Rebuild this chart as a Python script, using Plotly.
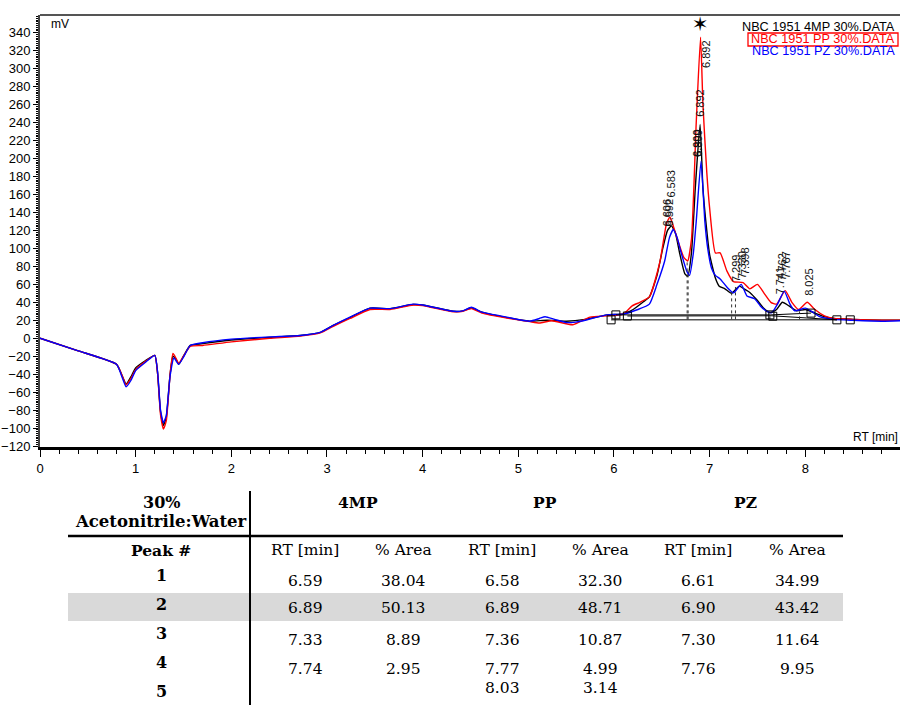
import plotly.graph_objects as go

# ---------------- data ----------------
t_4mp = [0, 0.4, 0.8, 0.86, 0.9, 0.95, 1.0, 1.1, 1.2, 1.23, 1.26, 1.29, 1.32, 1.36, 1.39, 1.42, 1.45, 1.5, 1.57, 1.7,
         2.0, 2.4, 2.72, 2.93, 3.06, 3.24, 3.45, 3.66, 3.9, 4.0, 4.32, 4.42, 4.51, 4.62, 4.88, 5.12, 5.3, 5.5, 5.7, 5.93,
         6.1, 6.2, 6.3, 6.37, 6.45, 6.51, 6.56, 6.6, 6.64, 6.69, 6.74, 6.77, 6.81, 6.85, 6.9, 6.93, 6.97, 7.0, 7.06, 7.1,
         7.16, 7.23, 7.31, 7.36, 7.42, 7.5, 7.56, 7.63, 7.7, 7.76, 7.83, 7.91, 8.0, 8.1, 8.2, 8.3, 8.5, 8.8, 9.0]
v_4mp = [0, -14, -29, -42, -51, -43, -33, -25, -19, -40, -82, -97, -88, -40, -20, -23, -29, -20, -8, -6,
         -2, 1, 3, 6.5, 14, 23, 33.5, 33, 37.5, 37, 30, 30.5, 34, 29, 23, 19, 20, 19, 21, 26,
         27, 32, 40, 46, 70, 100, 120, 125, 118, 93, 72, 69, 95, 167, 238, 167, 120, 93, 67, 58,
         55, 50, 58, 55, 51, 42, 34, 28.5, 32, 40, 36, 30.5, 32, 28, 24, 22, 21, 20, 20]

t_pp = [0, 0.4, 0.8, 0.86, 0.9, 0.95, 1.0, 1.1, 1.2, 1.23, 1.26, 1.29, 1.32, 1.36, 1.39, 1.42, 1.45, 1.5, 1.57, 1.7,
        2.0, 2.4, 2.72, 2.93, 3.06, 3.24, 3.45, 3.66, 3.9, 4.0, 4.32, 4.42, 4.51, 4.62, 4.88, 5.12, 5.22, 5.35, 5.57, 5.75,
        5.93, 6.1, 6.19, 6.27, 6.37, 6.48, 6.55, 6.585, 6.62, 6.67, 6.73, 6.77, 6.81, 6.86, 6.905, 6.93, 6.97, 7.0, 7.06,
        7.11, 7.18, 7.25, 7.35, 7.42, 7.5, 7.57, 7.64, 7.7, 7.79, 7.86, 7.93, 8.02, 8.1, 8.2, 8.3, 8.5, 8.8, 9.0]
v_pp = [0, -14, -29, -42, -52, -45, -35, -26, -19, -40, -85, -101, -92, -40, -17, -22, -28, -20, -9, -8,
        -4, 0, 2.5, 6, 13, 22, 32, 32, 37, 36.5, 29.5, 30, 33, 28, 22.5, 18.5, 17, 19.5, 15, 23.5,
        25, 27, 36, 40, 46, 85, 128, 135, 125, 108, 90, 86, 110, 240, 335, 260, 185, 145, 95,
        95, 75, 63, 62, 55, 60, 50, 40, 38, 53, 40, 32, 40, 32, 25, 22, 21, 20, 20]

t_pz = [0, 0.4, 0.8, 0.86, 0.9, 0.95, 1.0, 1.1, 1.2, 1.23, 1.26, 1.29, 1.32, 1.36, 1.4, 1.45, 1.5, 1.57, 1.7,
        2.0, 2.4, 2.72, 2.93, 3.06, 3.24, 3.45, 3.66, 3.9, 4.0, 4.32, 4.42, 4.51, 4.62, 4.88, 5.12, 5.22, 5.28, 5.38,
        5.5, 5.6, 5.68, 5.8, 5.93, 6.1, 6.25, 6.37, 6.45, 6.53, 6.58, 6.62, 6.66, 6.7, 6.76, 6.79, 6.83, 6.86, 6.91,
        6.95, 6.98, 7.02, 7.06, 7.11, 7.18, 7.25, 7.33, 7.39, 7.47, 7.53, 7.59, 7.65, 7.71, 7.78, 7.84, 7.89, 8.0,
        8.08, 8.15, 8.3, 8.5, 8.8, 9.0]
v_pz = [0, -14, -29, -44, -54, -47, -36, -27, -19, -38, -80, -94, -86, -42, -22, -29, -21, -8, -5,
        -1, 1.5, 3, 6.5, 14, 23.5, 33.5, 33, 38, 37, 30, 30.5, 34.5, 29, 23.5, 19, 22, 24, 21,
        17.5, 18, 19.5, 23, 26, 27, 32, 38, 60, 86, 112, 121, 112, 96, 75, 70, 95, 130, 197,
        130, 100, 78, 70, 66, 57, 50.5, 60, 47, 44, 36, 30.5, 28.5, 38, 52.5, 38, 30.5, 33.5,
        29, 24, 21, 20, 19, 19.5]

series_names = ["NBC 1951 4MP 30%.DATA", "NBC 1951 PP 30%.DATA", "NBC 1951 PZ 30%.DATA"]
series_colors = ["#000000", "#ff0000", "#0000ff"]

# integration baselines (min, mV)
base_t = [[5.97, 8.33], [6.02, 7.64], [6.14, 7.65, 8.33], [7.64, 8.06]]
base_v = [[20.5, 20.5], [26, 26], [24.8, 25, 20.5], [26, 28]]
square_t = [5.97, 6.02, 6.14, 7.63, 7.66, 8.06, 8.33, 8.47]
square_v = [20.5, 26, 24.8, 26, 24.5, 28, 20.5, 20.5]
drop_t = [6.765, 6.775, 7.23, 7.27, 7.63, 7.94]
drop_top = [86, 72, 52, 57, 28, 30]
drop_bot = [21, 21, 21, 21, 21, 21]

peak_label_text = ["6.583", "6.606", "6.592", "6.892", "6.892", "6.900", "6.899",
                   "7.299", "7.330", "7.398", "7.741", "7.762", "7.767", "8.025"]
peak_label_t = [6.595, 6.555, 6.575, 6.97, 6.9, 6.875, 6.885,
                7.275, 7.33, 7.37, 7.73, 7.76, 7.79, 8.03]
peak_label_v = [172, 140, 140, 316, 262, 217, 217,
                78, 82, 86, 65, 80, 82, 63]

star_t, star_v = [6.9], [347]

# table
table_groups = ["4MP", "PP", "PZ"]
peak_ids = ["1", "2", "3", "4", "5"]
rt_4mp = ["6.59", "6.89", "7.33", "7.74", ""]
area_4mp = ["38.04", "50.13", "8.89", "2.95", ""]
rt_pp = ["6.58", "6.89", "7.36", "7.77", "8.03"]
area_pp = ["32.30", "48.71", "10.87", "4.99", "3.14"]
rt_pz = ["6.61", "6.90", "7.30", "7.76", ""]
area_pz = ["34.99", "43.42", "11.64", "9.95", ""]

# ---------------- layout helpers ----------------
W, H = 900, 705
L, R, T, B = 40, 0, 15, 258
PW, PH = W - L - R, H - T - B


def px(x):
    return (x - L) / PW


def py(y):
    return (H - B - y) / PH


fig = go.Figure()

for t, v, nm, c in zip([t_4mp, t_pp, t_pz], [v_4mp, v_pp, v_pz], series_names, series_colors):
    fig.add_trace(go.Scatter(x=t, y=v, mode="lines", name=nm,
                             line=dict(color=c, width=1.4, shape="spline", smoothing=0.5),
                             hoverinfo="skip", showlegend=False))

for bt, bv in zip(base_t, base_v):
    fig.add_trace(go.Scatter(x=bt, y=bv, mode="lines", line=dict(color="#000", width=1),
                             hoverinfo="skip", showlegend=False))

dx, dy = [], []
for a, b0, b1 in zip(drop_t, drop_bot, drop_top):
    dx += [a, a, None]
    dy += [b0, b1, None]
fig.add_trace(go.Scatter(x=dx, y=dy, mode="lines", line=dict(color="#333", width=1, dash="dot"),
                         hoverinfo="skip", showlegend=False))

fig.add_trace(go.Scatter(x=square_t, y=square_v, mode="markers",
                         marker=dict(symbol="square-open", size=8, color="#000", line=dict(width=1)),
                         hoverinfo="skip", showlegend=False))

fig.add_trace(go.Scatter(x=star_t, y=star_v, mode="text", text=["\u2736"],
                         textfont=dict(family="DejaVu Sans", size=20, color="#000"),
                         hoverinfo="skip", showlegend=False))

for txt, t, v in zip(peak_label_text, peak_label_t, peak_label_v):
    fig.add_annotation(x=t, y=v, xref="x", yref="y", text=txt, textangle=-90, showarrow=False,
                       font=dict(family="Liberation Sans", size=11, color="#111"))

# legend text
leg_y = [27, 39.5, 51.5]
for nm, c, yy in zip(series_names, series_colors, leg_y):
    fig.add_annotation(x=px(897), y=py(yy), xref="paper", yref="paper", text=nm, showarrow=False,
                       xanchor="right", yanchor="middle",
                       font=dict(family="Liberation Sans", size=12.7, color=c))

fig.add_shape(type="rect", xref="paper", yref="paper", x0=px(748), x1=px(898), y0=py(33), y1=py(46),
              line=dict(color="#ff0000", width=1.3))

fig.add_annotation(x=px(49), y=py(24), xref="paper", yref="paper", text="mV", showarrow=False,
                   xanchor="left", yanchor="middle", font=dict(family="Liberation Sans", size=12, color="#000"))
fig.add_annotation(x=px(900), y=py(437), xref="paper", yref="paper", text="RT [min]", showarrow=False,
                   xanchor="right", yanchor="middle", font=dict(family="Liberation Sans", size=12, color="#000"))

# top border
fig.add_shape(type="line", xref="paper", yref="paper", x0=0, x1=1, y0=1, y1=1,
              line=dict(color="#555", width=2))

# ---------------- table ----------------
sf = "DejaVu Serif"
fig.add_shape(type="rect", xref="paper", yref="paper", x0=px(68), x1=px(843), y0=py(593), y1=py(621),
              fillcolor="#d9d9d9", line=dict(width=0), layer="below")
fig.add_shape(type="line", xref="paper", yref="paper", x0=px(68), x1=px(843), y0=py(536), y1=py(536),
              line=dict(color="#000", width=2.5))
fig.add_shape(type="line", xref="paper", yref="paper", x0=px(250), x1=px(250), y0=py(491), y1=py(705),
              line=dict(color="#000", width=2))


def tab_text(x, y, s, bold=False, size=15.5):
    fig.add_annotation(x=px(x), y=py(y), xref="paper", yref="paper",
                       text=("<b>%s</b>" % s) if bold else s, showarrow=False,
                       xanchor="center", yanchor="middle", font=dict(family=sf, size=size, color="#000"))


tab_text(161, 502, "30%", bold=True, size=16)
tab_text(161, 521, "Acetonitrile:Water", bold=True, size=16.5)
for g, gx in zip(table_groups, [358, 545, 745]):
    tab_text(gx, 503, g, bold=True, size=15.5)
tab_text(161, 550, "Peak #", bold=True, size=15.5)
col_x = [305, 403, 502, 600, 698, 797]
for cx, h in zip(col_x, ["RT [min]", "% Area"] * 3):
    tab_text(cx, 550, h)

label_y = [575, 604, 633, 662, 691]
value_y = [581, 608, 640, 669, 688]
cols = [rt_4mp, area_4mp, rt_pp, area_pp, rt_pz, area_pz]
for i, pid in enumerate(peak_ids):
    tab_text(161, label_y[i], pid, bold=True, size=16)
    for cx, col in zip(col_x, cols):
        if col[i]:
            tab_text(cx, value_y[i], col[i])

# ---------------- axes ----------------
fig.update_layout(
    width=W, height=H, margin=dict(l=L, r=R, t=T, b=B, autoexpand=False),
    paper_bgcolor="white", plot_bgcolor="white",
    xaxis=dict(range=[0, 8.99], showgrid=False, zeroline=False, showline=True, linecolor="#000", linewidth=3,
               automargin=False,
               ticks="outside", ticklen=7, tickwidth=1, tickcolor="#000", dtick=1, tick0=0,
               tickfont=dict(family="Liberation Sans", size=13, color="#000"),
               minor=dict(dtick=0.2, ticklen=4, tickcolor="#000", ticks="outside")),
    yaxis=dict(range=[-121, 359.7], showgrid=False, zeroline=False, showline=True, linecolor="#444", linewidth=2,
               automargin=False,
               ticks="outside", ticklen=5, tickwidth=1, tickcolor="#000", dtick=20, tick0=0,
               tickfont=dict(family="Liberation Sans", size=13, color="#000"),
               minor=dict(dtick=2, ticklen=2.5, tickcolor="#000", ticks="outside")),
)

fig.write_html("out.html", config={"displayModeBar": False},
               post_script="document.body.style.margin='0px';document.body.style.overflow='hidden';")
